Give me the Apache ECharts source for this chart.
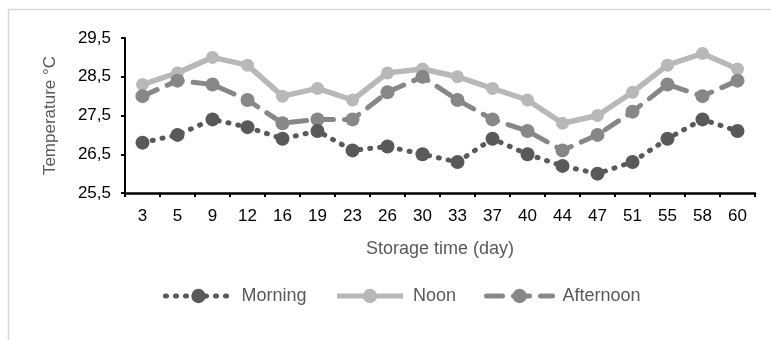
<!DOCTYPE html>
<html>
<head>
<meta charset="utf-8">
<script src="https://cdn.jsdelivr.net/npm/echarts@6/dist/echarts.min.js"></script>
<style>
  html, body { margin: 0; padding: 0; background: #fff; }
  #main { width: 771px; height: 340px; }
</style>
</head>
<body>
<div id="main"></div>
<script>
var days = ['3', '5', '9', '12', '16', '19', '23', '26', '30', '33', '37', '40', '44', '47', '51', '55', '58', '60'];
var morning = [26.8, 27.0, 27.4, 27.2, 26.9, 27.1, 26.6, 26.7, 26.5, 26.3, 26.9, 26.5, 26.2, 26.0, 26.3, 26.9, 27.4, 27.1];
var noon = [28.3, 28.6, 29.0, 28.8, 28.0, 28.2, 27.9, 28.6, 28.7, 28.5, 28.2, 27.9, 27.3, 27.5, 28.1, 28.8, 29.1, 28.7];
var afternoon = [28.0, 28.4, 28.3, 27.9, 27.3, 27.4, 27.4, 28.1, 28.5, 27.9, 27.4, 27.1, 26.6, 27.0, 27.6, 28.3, 28.0, 28.4];

var myChart = echarts.init(document.getElementById('main'), null, { renderer: 'canvas' });
var font = 'Liberation Sans, Arial, sans-serif';

var option = {
    animation: false,
    textStyle: { fontFamily: font },
    graphic: [{
        type: 'rect',
        shape: { x: 8.5, y: 9.5, width: 800, height: 400 },
        style: { fill: 'none', stroke: '#d9d9d9', lineWidth: 1.5 },
        silent: true
    }],
    legend: {
        top: 282,
        left: 158,
        itemWidth: 66,
        itemHeight: 18,
        itemGap: 28,
        lineStyle: { width: 5 },
        textStyle: { color: '#595959', fontSize: 18, fontFamily: font, padding: [0, 0, 0, 5] },
        data: ['Morning', 'Noon', 'Afternoon']
    },
    grid: {
        left: 125,
        right: 16,
        top: 38,
        bottom: 147
    },
    xAxis: {
        type: 'category',
        data: days,
        boundaryGap: true,
        name: 'Storage time (day)',
        nameLocation: 'middle',
        nameGap: 47,
        nameTextStyle: { color: '#595959', fontSize: 18 },
        axisLine: { lineStyle: { color: '#000', width: 2.5 } },
        axisTick: { show: true, length: 4, lineStyle: { color: '#000', width: 2 } },
        axisLabel: { color: '#000', fontSize: 17, margin: 15 }
    },
    yAxis: {
        type: 'value',
        min: 25.5,
        max: 29.5,
        interval: 1,
        name: 'Temperature °C',
        nameLocation: 'middle',
        nameGap: 66,
        nameTextStyle: { color: '#595959', fontSize: 17 },
        axisLine: { show: true, lineStyle: { color: '#000', width: 2 } },
        axisTick: { show: true, length: 4, lineStyle: { color: '#000', width: 2 } },
        splitLine: { show: false },
        axisLabel: {
            color: '#000',
            fontSize: 17,
            margin: 14,
            formatter: function (v) { return v.toFixed(1).replace('.', ','); }
        }
    },
    series: [
        {
            name: 'Morning',
            type: 'line',
            data: morning,
            symbol: 'circle',
            symbolSize: 14,
            itemStyle: { color: '#595959' },
            lineStyle: { color: '#595959', width: 5, type: [1, 9], cap: 'round' },
            z: 3
        },
        {
            name: 'Noon',
            type: 'line',
            data: noon,
            symbol: 'circle',
            symbolSize: 13,
            itemStyle: { color: '#b8b8b8' },
            lineStyle: { color: '#b8b8b8', width: 5.5 },
            z: 1
        },
        {
            name: 'Afternoon',
            type: 'line',
            data: afternoon,
            symbol: 'circle',
            symbolSize: 14,
            itemStyle: { color: '#878787' },
            lineStyle: { color: '#878787', width: 5, type: [16, 11], cap: 'round' },
            z: 2
        }
    ]
};

myChart.setOption(option, true);
</script>
</body>
</html>
